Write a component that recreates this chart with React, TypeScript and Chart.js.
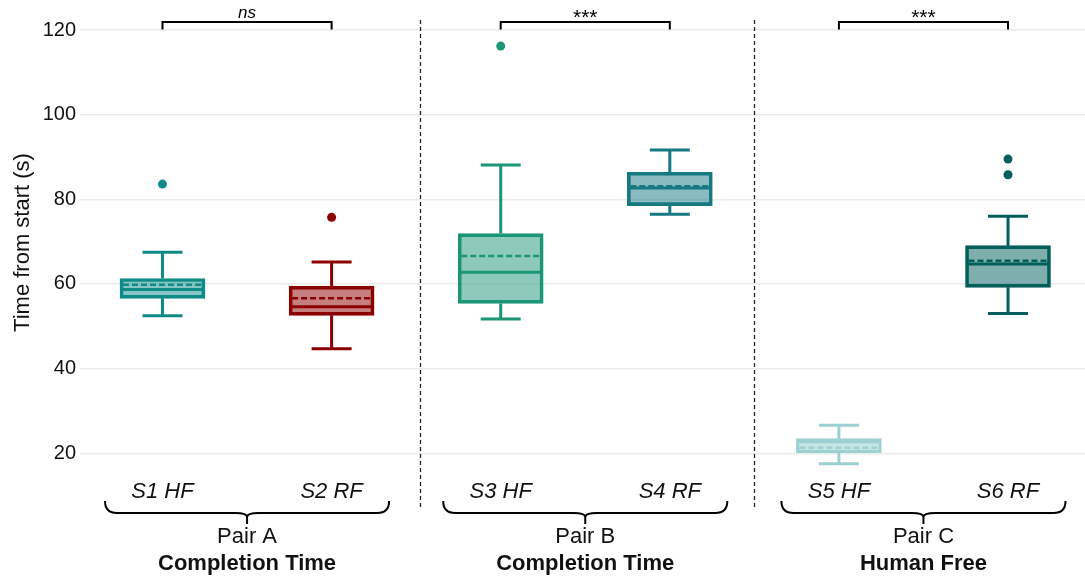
import { useEffect, useRef } from "react";
import { Chart, registerables } from "chart.js";

Chart.register(...registerables);

// ---- data ----
const categories = ["S1 HF", "S2 RF", "S3 HF", "S4 RF", "S5 HF", "S6 RF"];
const positions = [1, 2, 3, 4, 5, 6];
const whiskerLow = [52.5, 44.7, 51.7, 76.45, 17.55, 53.0];
const q1 = [56.6, 52.6, 55.4, 78.5, 20.15, 59.2];
const median = [58.7, 54.6, 62.8, 82.7, 22.7, 64.7];
const q3 = [61.3, 59.5, 71.9, 86.4, 23.45, 69.05];
const whiskerHigh = [67.5, 65.2, 88.1, 91.65, 26.6, 76.0];
const mean = [59.8, 56.6, 66.6, 83.1, 21.3, 65.5];
const outliers = [[83.6], [75.75], [116.2], [], [], [89.5, 85.8]];

const strokeColors = ["#0E8B87", "#8B0000", "#1B9677", "#167881", "#9DD0D0", "#005F5B"];
const fillColors = [
  "rgba(14,139,135,0.5)",
  "rgba(139,0,0,0.5)",
  "rgba(27,150,119,0.5)",
  "rgba(22,120,129,0.5)",
  "#C6E5E5",
  "rgba(0,95,91,0.5)",
];

const pairLabels = ["Pair A", "Pair B", "Pair C"];
const pairMetrics = ["Completion Time", "Completion Time", "Human Free"];
const pairMembers = [[0, 1], [2, 3], [4, 5]];
const significance = ["ns", "***", "***"];
const separators = [2.52, 4.5];
const yTicks = [20, 40, 60, 80, 100, 120];
const yTitle = "Time from start (s)";

const FONT = "'Liberation Sans', Arial, Helvetica, sans-serif";
const TEXT = "#111111";

export default function App() {
  const ref = useRef<HTMLCanvasElement | null>(null);

  useEffect(() => {
    document.body.style.margin = "0";
    const canvas = ref.current;
    if (!canvas) return;

    const outlierPoints: { x: number; y: number }[] = [];
    const outlierColors: string[] = [];
    outliers.forEach((vals, i) =>
      vals.forEach((v) => {
        outlierPoints.push({ x: positions[i], y: v });
        outlierColors.push(strokeColors[i]);
      })
    );

    const BOX_PX = 85;
    const CAP_PX = 40;

    const extras = {
      id: "boxExtras",
      beforeDatasetsDraw(chart: any) {
        const { ctx } = chart;
        const xs = chart.scales.x;
        const ys = chart.scales.y;
        ctx.save();
        ctx.lineWidth = 3;
        ctx.lineCap = "butt";
        positions.forEach((p, i) => {
          const x = xs.getPixelForValue(p);
          ctx.strokeStyle = strokeColors[i];
          ctx.beginPath();
          ctx.moveTo(x, ys.getPixelForValue(q3[i]));
          ctx.lineTo(x, ys.getPixelForValue(whiskerHigh[i]));
          ctx.moveTo(x, ys.getPixelForValue(q1[i]));
          ctx.lineTo(x, ys.getPixelForValue(whiskerLow[i]));
          const yh = ys.getPixelForValue(whiskerHigh[i]);
          const yl = ys.getPixelForValue(whiskerLow[i]);
          ctx.moveTo(x - CAP_PX / 2, yh);
          ctx.lineTo(x + CAP_PX / 2, yh);
          ctx.moveTo(x - CAP_PX / 2, yl);
          ctx.lineTo(x + CAP_PX / 2, yl);
          ctx.stroke();
        });
        ctx.restore();
      },
      afterDatasetsDraw(chart: any) {
        const { ctx } = chart;
        const xs = chart.scales.x;
        const ys = chart.scales.y;
        ctx.save();
        positions.forEach((p, i) => {
          const x = xs.getPixelForValue(p);
          const half = BOX_PX / 2 - 1.5;
          ctx.strokeStyle = strokeColors[i];
          // median
          ctx.setLineDash([]);
          ctx.lineWidth = 3;
          const ym = ys.getPixelForValue(median[i]);
          ctx.beginPath();
          ctx.moveTo(x - half, ym);
          ctx.lineTo(x + half, ym);
          ctx.stroke();
          // mean
          ctx.setLineDash([6, 3]);
          ctx.lineWidth = 2.5;
          const ymean = ys.getPixelForValue(mean[i]);
          ctx.beginPath();
          ctx.moveTo(x - half + 1.5, ymean);
          ctx.lineTo(x + half - 1.5, ymean);
          ctx.stroke();
        });
        ctx.restore();
      },
      afterDraw(chart: any) {
        const { ctx, chartArea } = chart;
        const xs = chart.scales.x;
        const ys = chart.scales.y;
        const bottom = chartArea.bottom;
        ctx.save();

        // dashed separators
        ctx.strokeStyle = "#222222";
        ctx.lineWidth = 1.3;
        ctx.setLineDash([4, 3]);
        separators.forEach((s) => {
          const x = Math.round(xs.getPixelForValue(s)) + 0.5;
          ctx.beginPath();
          ctx.moveTo(x, chartArea.top + 20);
          ctx.lineTo(x, bottom + 25);
          ctx.stroke();
        });
        ctx.setLineDash([]);

        // significance brackets
        ctx.strokeStyle = "#000000";
        ctx.lineWidth = 2;
        pairMembers.forEach((m, k) => {
          const xa = xs.getPixelForValue(positions[m[0]]);
          const xb = xs.getPixelForValue(positions[m[1]]);
          const yb = ys.getPixelForValue(121.9);
          const yt = ys.getPixelForValue(120.1);
          ctx.beginPath();
          ctx.moveTo(xa, yt);
          ctx.lineTo(xa, yb);
          ctx.lineTo(xb, yb);
          ctx.lineTo(xb, yt);
          ctx.stroke();
          ctx.fillStyle = "#000000";
          ctx.textAlign = "center";
          ctx.textBaseline = "alphabetic";
          const cx = (xa + xb) / 2;
          if (significance[k] === "ns") {
            ctx.font = `italic 17px ${FONT}`;
            ctx.fillText(significance[k], cx, yb - 3.5);
          } else {
            ctx.font = `21px ${FONT}`;
            ctx.fillText(significance[k], cx, yb + 2.5);
          }
        });

        // category labels
        ctx.fillStyle = TEXT;
        ctx.textAlign = "center";
        ctx.textBaseline = "middle";
        ctx.font = `italic 22px ${FONT}`;
        categories.forEach((c, i) => {
          ctx.fillText(c, xs.getPixelForValue(positions[i]), bottom + 7);
        });

        // braces and pair labels
        ctx.strokeStyle = "#000000";
        ctx.lineWidth = 2;
        pairMembers.forEach((m, k) => {
          const x1 = xs.getPixelForValue(positions[m[0]]) - 57.5;
          const x2 = xs.getPixelForValue(positions[m[1]]) + 57.5;
          const cx = (x1 + x2) / 2;
          const yTop = bottom + 16;
          const yMid = bottom + 28;
          const yTip = bottom + 39;
          const r = 12;
          ctx.beginPath();
          ctx.moveTo(x1, yTop);
          ctx.quadraticCurveTo(x1, yMid, x1 + r, yMid);
          ctx.lineTo(cx - r, yMid);
          ctx.quadraticCurveTo(cx, yMid, cx, yMid + 4);
          ctx.lineTo(cx, yTip);
          ctx.moveTo(cx, yMid + 4);
          ctx.quadraticCurveTo(cx, yMid, cx + r, yMid);
          ctx.lineTo(x2 - r, yMid);
          ctx.quadraticCurveTo(x2, yMid, x2, yTop);
          ctx.stroke();

          ctx.fillStyle = TEXT;
          ctx.font = `22px ${FONT}`;
          ctx.fillText(pairLabels[k], cx, bottom + 52);
          ctx.font = `bold 22px ${FONT}`;
          ctx.fillText(pairMetrics[k], cx, bottom + 79);
        });

        ctx.restore();
      },
    };

    const chart = new Chart(canvas, {
      type: "bar",
      data: {
        datasets: [
          {
            type: "bar",
            data: positions.map((p, i) => ({ x: p, y: [q1[i], q3[i]] })) as any,
            backgroundColor: fillColors,
            borderColor: strokeColors,
            borderWidth: 3,
            borderSkipped: false,
            barThickness: BOX_PX,
          } as any,
          {
            type: "scatter",
            data: outlierPoints as any,
            pointRadius: 4.5,
            pointBackgroundColor: outlierColors,
            pointBorderWidth: 0,
            showLine: false,
          } as any,
        ],
      },
      options: {
        responsive: false,
        animation: false,
        events: [],
        layout: { autoPadding: false, padding: { left: 0, right: 0, top: 0, bottom: 94 } },
        plugins: {
          legend: { display: false },
          tooltip: { enabled: false },
        },
        scales: {
          x: {
            type: "linear",
            min: 0.5121,
            max: 6.4553,
            offset: false,
            display: false,
            grid: { display: false },
          },
          y: {
            type: "linear",
            min: 12.51,
            max: 127.09,
            afterBuildTicks: (s: any) => {
              s.ticks = yTicks.map((v) => ({ value: v }));
            },
            afterFit: (s: any) => {
              s.width = 80;
              s.paddingTop = 0;
              s.paddingBottom = 0;
            },
            border: { display: false },
            grid: { color: "#EBEBEB", lineWidth: 1.5, drawTicks: false },
            ticks: {
              padding: 4,
              color: TEXT,
              font: { family: FONT, size: 20 },
            },
            title: {
              display: true,
              text: yTitle,
              color: TEXT,
              font: { family: FONT, size: 22 },
              padding: { top: 10, bottom: 0 },
            },
          },
        },
      },
      plugins: [extras],
    } as any);

    return () => chart.destroy();
  }, []);

  return (
    <div style={{ width: 1085, height: 579, position: "relative" }}>
      <canvas ref={ref} width={1085} height={579} style={{ display: "block" }} />
    </div>
  );
}
